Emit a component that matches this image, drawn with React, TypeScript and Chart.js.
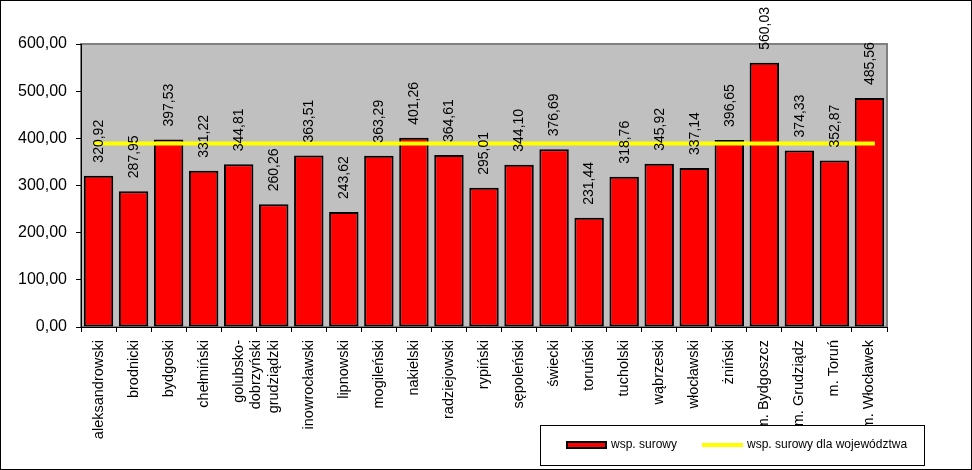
import React, { useEffect, useRef } from "react";
import { Chart, registerables } from "chart.js";

Chart.register(...registerables);

const categories: (string | string[])[] = [
  "aleksandrowski", "brodnicki", "bydgoski", "chełmiński", ["golubsko-", "dobrzyński"],
  "grudziądzki", "inowrocławski", "lipnowski", "mogileński", "nakielski", "radziejowski",
  "rypiński", "sępoleński", "świecki", "toruński", "tucholski", "wąbrzeski", "włocławski",
  "żniński", "m. Bydgoszcz", "m. Grudziądz", "m. Toruń", "m. Włocławek",
];

const rawRates: number[] = [
  320.92, 287.95, 397.53, 331.22, 344.81, 260.26, 363.51, 243.62, 363.29, 401.26, 364.61,
  295.01, 344.1, 376.69, 231.44, 318.76, 345.92, 337.14, 396.65, 560.03, 374.33, 352.87, 485.56,
];

const regionRate: number[] = [
  388.8, 388.8, 388.8, 388.8, 388.8, 388.8, 388.8, 388.8, 388.8, 388.8, 388.8, 388.8,
  388.8, 388.8, 388.8, 388.8, 388.8, 388.8, 388.8, 388.8, 388.8, 388.8, 388.8,
];

const yTicks: number[] = [0, 100, 200, 300, 400, 500, 600];

const seriesNames = ["wsp. surowy", "wsp. surowy dla województwa"];

const FONT = "'Liberation Sans', Arial, sans-serif";
const fmt = (v: number) => v.toFixed(2).replace(".", ",");

export default function App() {
  const ref = useRef<HTMLCanvasElement | null>(null);

  useEffect(() => {
    document.body.style.margin = "0";
    const canvas = ref.current;
    if (!canvas) return;

    const bgPlugin = {
      id: "bgPlugin",
      beforeDraw(chart: any) {
        const { ctx, chartArea: a, width, height } = chart;
        ctx.save();
        ctx.fillStyle = "#ffffff";
        ctx.fillRect(0, 0, width, height);
        ctx.fillStyle = "#C0C0C0";
        ctx.fillRect(a.left, a.top, a.right - a.left, a.bottom - a.top);
        ctx.strokeStyle = "#808080";
        ctx.lineWidth = 2;
        ctx.strokeRect(a.left, a.top, a.right - a.left, a.bottom - a.top);
        ctx.restore();
      },
      afterDraw(chart: any) {
        const { ctx, width, height } = chart;
        ctx.save();
        ctx.strokeStyle = "#000";
        ctx.lineWidth = 1;
        ctx.strokeRect(0.5, 0.5, width - 1, height - 1);
        const lx = 540, ly = 425, lw = 384, lh = 40;
        ctx.fillStyle = "#fff";
        ctx.fillRect(lx, ly, lw, lh);
        ctx.strokeRect(lx + 0.5, ly + 0.5, lw, lh);
        const cy = ly + 20;
        ctx.fillStyle = "#FF0000";
        ctx.fillRect(566, cy - 3, 41, 6);
        ctx.strokeStyle = "#000";
        ctx.lineWidth = 2;
        ctx.strokeRect(567, cy - 3, 39, 6);
        ctx.strokeStyle = "#FFFF00";
        ctx.lineWidth = 4;
        ctx.beginPath();
        ctx.moveTo(702, cy);
        ctx.lineTo(743, cy);
        ctx.stroke();
        ctx.fillStyle = "#000";
        ctx.font = `12px ${FONT}`;
        ctx.textBaseline = "middle";
        ctx.textAlign = "left";
        ctx.fillText(seriesNames[0], 611, cy);
        ctx.fillText(seriesNames[1], 747, cy);
        ctx.restore();
      },
      afterDatasetsDraw(chart: any) {
        const { ctx } = chart;
        const meta = chart.getDatasetMeta(1);
        ctx.save();
        ctx.fillStyle = "#000";
        ctx.font = `14px ${FONT}`;
        ctx.textAlign = "left";
        ctx.textBaseline = "middle";
        meta.data.forEach((el: any, i: number) => {
          ctx.save();
          ctx.translate(el.x + 0.5, el.y - 13);
          ctx.rotate(-Math.PI / 2);
          ctx.fillText(fmt(rawRates[i]), 0, 0);
          ctx.restore();
        });
        ctx.restore();
      },
    };

    const chart = new Chart(canvas, {
      type: "bar",
      data: {
        labels: categories as any,
        datasets: [
          {
            type: "line",
            label: seriesNames[1],
            data: regionRate.map((v, i) => ({ x: i, y: v })) as any,
            xAxisID: "x2",
            borderColor: "#FFFF00",
            backgroundColor: "#FFFF00",
            borderWidth: 4,
            pointRadius: 0,
            order: 0,
          } as any,
          {
            type: "bar",
            label: seriesNames[0],
            data: rawRates,
            backgroundColor: "#FF0000",
            borderColor: "#000000",
            borderWidth: 2,
            borderSkipped: false,
            barPercentage: 0.84,
            categoryPercentage: 1,
            grouped: false,
            order: 1,
          },
        ],
      },
      options: {
        responsive: false,
        animation: false,
        devicePixelRatio: 1,
        layout: { padding: { left: 0, top: 44, right: 85, bottom: 0 } },
        plugins: { legend: { display: false }, tooltip: { enabled: false } },
        scales: {
          x: {
            type: "category",
            offset: true,
            grid: { display: true, drawOnChartArea: false, drawTicks: true, tickLength: 5, color: "#000", offset: true },
            border: { display: true, color: "#000", width: 1 },
            ticks: {
              color: "#000",
              font: { family: FONT, size: 14.5 },
              minRotation: 90,
              maxRotation: 90,
              autoSkip: false,
              padding: 8,
            },
            afterFit(scale: any) {
              scale.height = 143;
            },
          },
          x2: {
            type: "linear",
            display: false,
            offset: false,
            grid: { offset: false },
            min: -0.34,
            max: 22.34,
          },
          y: {
            min: 0,
            max: 600,
            afterBuildTicks(scale: any) {
              scale.ticks = yTicks.map((v) => ({ value: v }));
            },
            grid: { display: true, drawOnChartArea: false, drawTicks: true, tickLength: 5, color: "#000" },
            border: { display: true, color: "#000", width: 1 },
            ticks: {
              color: "#000",
              font: { family: FONT, size: 16 },
              padding: 9,
              callback: (v: any) => fmt(Number(v)),
            },
            afterFit(scale: any) {
              scale.width = 81;
            },
          },
        },
      },
      plugins: [bgPlugin],
    });

    return () => chart.destroy();
  }, []);

  return (
    <div style={{ width: 972, height: 470 }}>
      <canvas ref={ref} width={972} height={470} style={{ display: "block" }} />
    </div>
  );
}
